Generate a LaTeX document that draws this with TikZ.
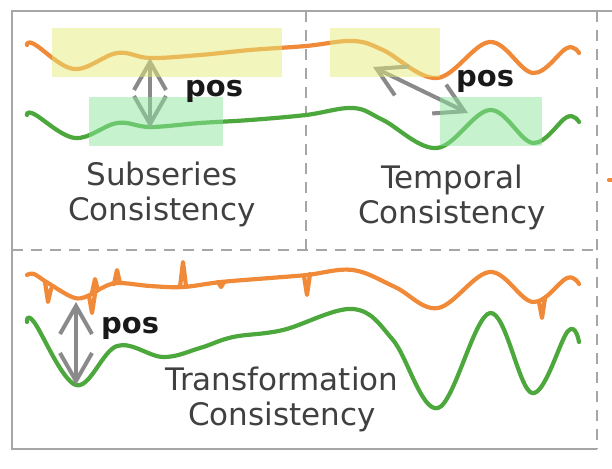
\documentclass[tikz,border=0pt]{standalone}
\usepackage{fontspec}
\setmainfont{DejaVu Sans}
\usetikzlibrary{arrows.meta}

\definecolor{seriesorange}{HTML}{F08A38}
\definecolor{seriesgreen}{HTML}{4CA83C}
\definecolor{boxyellow}{HTML}{E5EB79}
\definecolor{boxgreen}{HTML}{8DE59D}
\definecolor{framegray}{HTML}{A6A6A6}
\definecolor{arrowgray}{HTML}{8A8A8A}
\definecolor{textgray}{HTML}{404040}

\tikzset{
  orangeline/.style={seriesorange,line width=4.2pt,line cap=round,line join=round},
  greenline/.style={seriesgreen,line width=4.2pt,line cap=round,line join=round},
  framesolid/.style={framegray,line width=2pt},
  framedash/.style={framegray,line width=2pt,dash pattern=on 11pt off 8pt},
  yellowbox/.style={fill=boxyellow,fill opacity=0.5},
  greenbox/.style={fill=boxgreen,fill opacity=0.5},
  posarrow/.style={arrowgray,line width=4pt,
    arrows={Straight Barb[length=28pt,width=32pt]-Straight Barb[length=28pt,width=32pt]}},
  poslabel/.style={font=\fontsize{29}{30}\selectfont\bfseries,text=black!90,anchor=base west,inner sep=0pt},
  kindlabel/.style={font=\fontsize{31}{35}\selectfont,text=textgray,align=center,anchor=base,inner sep=0pt}
}

\begin{document}
\begin{tikzpicture}[x=1pt,y=-1pt]
    \useasboundingbox (0,0) rectangle (612,468);
    \draw[framesolid] (612,11) -- (12,11) -- (12,449) -- (597,449);
    \draw[framedash] (597,11) -- (597,449);
    \draw[framedash] (306,11) -- (306,250);
    \draw[framedash] (12,250) -- (597,250);
    \draw[orangeline] (609,180) -- (616,180);

    % upper pair of series
    \draw[orangeline] plot[smooth,tension=0.6] coordinates {(27,45) (34,44) (74,69) (117,53) (150,58) (200,55) (250,50) (306,46)
        (353,41) (383,50) (437,78) (490,42) (533,73) (567,48) (579,53)};
    \draw[greenline] plot[smooth,tension=0.6] coordinates {(27,115) (34,114) (75,138) (117,123) (150,127) (200,123) (250,120) (306,115)
        (353,108) (383,120) (437,148) (490,110) (533,143) (567,117) (579,122)};

    % lower pair of series
    \draw[orangeline] plot[smooth,tension=0.6] coordinates {(27,275) (34,274) (48,283) (75,298) (92,294) (100,289) (117,283) (150,286)
        (183,287) (221,282) (270,278) (307,275) (353,270) (395,287) (438,308) (490,272) (533,302) (567,278) (579,284)};
    \foreach \x/\l/\t/\r in {48/282/302/289,92/296/313/294,95/293/279/290,117/284/270/283,183/287/262/286,221/282/287/282,307/276/295/274,542/302/318/298}
        \draw[orangeline] (\x-3,\l) -- (\x,\t) -- (\x+3,\r);
    \draw[greenline] plot[smooth,tension=0.6] coordinates {(27,322) (34,322) (76,385) (117,346) (163,357) (200,348) (233,337) (283,330)
        (353,309) (393,340) (438,408) (490,313) (532,393) (568,331) (579,342)};

    \coordinate (subtop) at (150,58);
    \coordinate (subbot) at (150,128);
    \coordinate (temptop) at (373,67);
    \coordinate (tempbot) at (468,113);
    \coordinate (transtop) at (76,302);
    \coordinate (transbot) at (76,385);
    \draw[posarrow] (subtop) -- (subbot);
    \draw[posarrow] (temptop) -- (tempbot);
    \draw[posarrow] (transtop) -- (transbot);

    \fill[yellowbox] (52,28) rectangle (282,77);
    \fill[greenbox] (89,97) rectangle (223,146);
    \fill[yellowbox] (330,28) rectangle (440,77);
    \fill[greenbox] (440,97) rectangle (542,146);

    \node[poslabel] (subpos) at (185,97) {pos};
    \node[poslabel] (temppos) at (456,87) {pos};
    \node[poslabel] (transpos) at (101,333) {pos};

    \node[kindlabel] (subkind) at (162,220) {Subseries\\Consistency};
    \node[kindlabel] (tempkind) at (452,223) {Temporal\\Consistency};
    \node[kindlabel] (transkind) at (282,425) {Transformation\\Consistency};
\end{tikzpicture}
\end{document}
